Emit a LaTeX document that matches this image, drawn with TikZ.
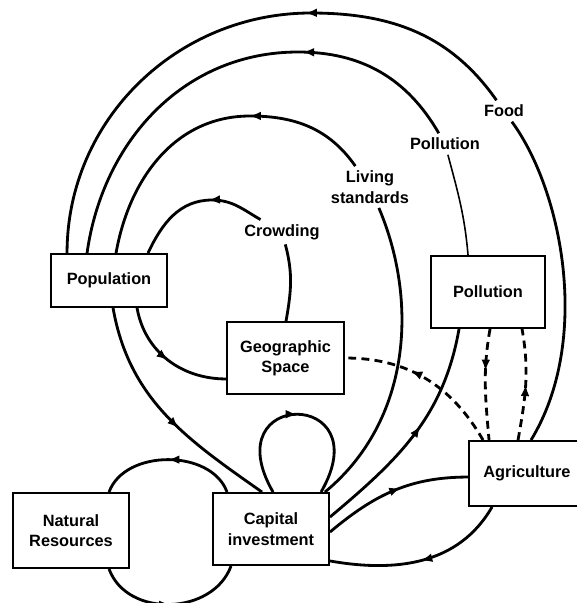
\documentclass[tikz,border=0pt]{standalone}
\usepackage{fontspec}
\setmainfont{Liberation Sans}
\usepackage{tikz}
\usetikzlibrary{calc,arrows.meta,decorations.markings}

\begin{document}
\begin{tikzpicture}[x=0.02cm, y=-0.02cm,
        box/.style={draw, line width=1.1pt, align=center, inner sep=2pt,
            font=\fontsize{9.3}{11.6}\selectfont\bfseries},
        lbl/.style={inner sep=2.5pt, align=center,
            font=\fontsize{9.3}{11.6}\selectfont\bfseries},
        flow/.style={line width=1.6pt},
        dsh/.style={line width=1.6pt, dash pattern=on 4.5pt off 3pt},
        midarr/.style={postaction={decorate}, decoration={markings,
            mark=at position #1 with {\arrow{Latex[length=6.5pt,width=5pt]}}}}]
        \useasboundingbox (0,0) rectangle (577,603);

        \node (pop) [box, minimum width=2.32cm, minimum height=1.06cm] at (109,280.5) {Population};
        \node (pol) [box, minimum width=2.28cm, minimum height=1.44cm] at (488,292) {Pollution};
        \node (geo) [box, minimum width=2.34cm, minimum height=1.44cm] at (285.5,358) {Geographic\\Space};
        \node (nat) [box, minimum width=2.32cm, minimum height=1.5cm] at (71,530.5) {Natural\\Resources};
        \node (cap) [box, minimum width=2.32cm, minimum height=1.44cm] at (271,529) {Capital\\investment};
        \node (agr) [box, minimum width=2.32cm, minimum height=1.3cm] at (527,473.5) {Agriculture};

        \node (food) [lbl] at (504,111) {Food};
        \node (pollab) [lbl] at (445,144) {Pollution};
        \node (livlab) [lbl] at (370,187) {Living\\standards};
        \node (crowd) [lbl] at (282,232) {Crowding};

        \draw[flow] ($(agr.north west)+(63,0)$) .. controls (592,340) and (562,190) .. (food);
        \draw[flow, midarr=0.37] (food) to[out=125,in=0] (311,13)
            to[out=180,in=90] ($(pop.north west)+(17,0)$);

        \draw[flow, line width=0.9pt] ($(pol.north west)+(38,0)$) to[out=95,in=-75] (pollab);
        \draw[flow, midarr=0.34] (pollab) to[out=120,in=0] (298,52)
            to[out=180,in=82] ($(pop.north west)+(37,0)$);

        \draw[flow] ($(cap.north east)+(-5,0)$) .. controls (412,420) and (418,300) .. (livlab);
        \draw[flow, midarr=0.37] (livlab) to[out=125,in=0] (250,116)
            to[out=180,in=80] ($(pop.north west)+(66,0)$);

        \draw[flow] ($(geo.north west)+(60,0)$) to[out=80,in=-75] (crowd);
        \draw[flow, midarr=0.4] (crowd) to[out=150,in=0] (212,200)
            to[out=180,in=65] ($(pop.north west)+(98,0)$);

        \draw[flow, midarr=0.57] ($(pop.south west)+(63,0)$) to[out=-80,in=145] ($(cap.north west)+(50,0)$);
        \draw[flow, midarr=0.5] ($(pop.south west)+(87,0)$) to[out=-80,in=180] ($(geo.south west)+(0,-16)$);

        \draw[flow, midarr=0.5] ($(cap.north west)+(61,0)$) to[out=120,in=60,looseness=6.4] ($(cap.north west)+(109,0)$);
        \draw[flow, midarr=0.5] ($(cap.north west)+(15,0)$) to[out=110,in=70] ($(nat.north west)+(97,0)$);
        \draw[flow, midarr=0.5] ($(nat.south west)+(97,0)$) to[out=-70,in=-110,looseness=1.1] ($(cap.south west)+(19,0)$);

        \draw[flow, midarr=0.55] ($(cap.north east)+(0,25)$) to[out=40,in=-100] ($(pol.south west)+(29,0)$);
        \draw[flow, midarr=0.55] ($(cap.north east)+(0,40)$) to[out=40,in=180] ($(agr.north west)+(0,37)$);
        \draw[flow, midarr=0.5] ($(agr.south west)+(24,0)$) to[out=-120,in=-10] ($(cap.south east)+(0,-5)$);

        \draw[dsh, midarr=0.6] ($(agr.north west)+(15,0)$) to[out=120,in=0] (geo.east);
        \draw[dsh, midarr=0.38] ($(pol.south west)+(60,0)$) to[out=-100,in=95] ($(agr.north west)+(21,0)$);
        \draw[dsh, midarr=0.5] ($(agr.north west)+(50,0)$) to[out=80,in=-80] ($(pol.south west)+(92,0)$);
    \end{tikzpicture}
\end{document}
